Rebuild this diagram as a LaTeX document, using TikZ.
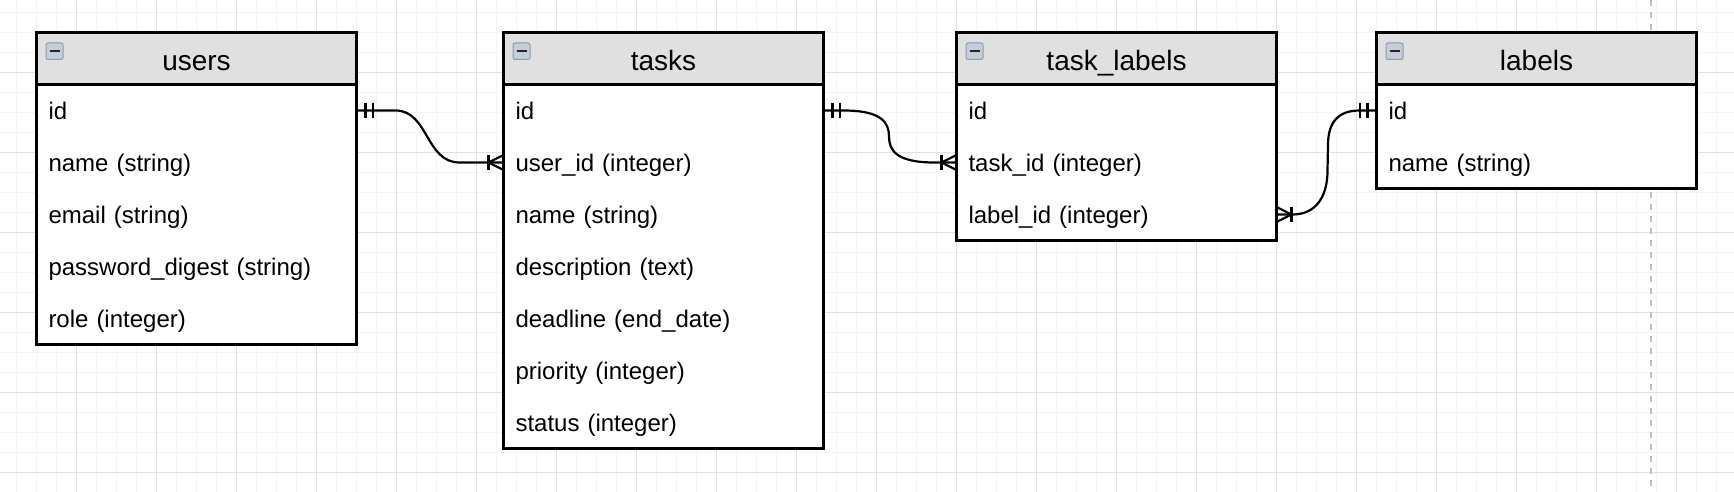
\documentclass[tikz,border=0pt]{standalone}
\usepackage{fontspec}
\setmainfont{Liberation Sans}
\usetikzlibrary{calc}
\definecolor{hdr}{RGB}{224,224,224}
\definecolor{gridminor}{RGB}{244,244,244}
\definecolor{gridmajor}{RGB}{224,224,224}
\definecolor{dashc}{RGB}{192,192,192}
\definecolor{iconfill}{RGB}{196,205,216}
\definecolor{iconborder}{RGB}{140,156,174}
\tikzset{
  hdrbox/.style={draw=black, line width=2.3pt, fill=hdr, minimum width=320pt, minimum height=52pt,
    anchor=north west, inner sep=0pt, outer sep=0pt, font=\fontsize{28}{32}\selectfont,
    text height=27pt, text depth=2pt},
  rowbox/.style={fill=white, minimum width=320pt, minimum height=52pt, anchor=north west,
    inner xsep=12pt, inner ysep=0pt, outer sep=0pt, text width=296pt, align=left,
    font=\fontsize{24}{28}\selectfont, text height=20pt, text depth=1.2pt},
  frame/.style={draw=black, line width=2.3pt},
  conn/.style={draw=black, line width=2.2pt},
  minorline/.style={draw=gridminor, line width=1.2pt},
  majorline/.style={draw=gridmajor, line width=1pt},
  dashline/.style={draw=dashc, line width=2pt, dash pattern=on 6pt off 6pt},
  icon/.style={draw=iconborder, fill=iconfill, line width=1pt, rounded corners=2pt},
  iconbar/.style={draw=black!85, line width=2.6pt}
}
\newcommand{\ertable}[4]{%
  \foreach \rowtext [count=\ri] in {#4} {
    \node[rowbox] (#1-r\ri) at (#2, {84.5+52*(\ri-1)}) {\rowtext};
    \xdef\erlastrow{\ri}
  }
  \node[hdrbox] (#1) at (#2,32.5) {#3};
  \draw[frame] (#1.north west) rectangle (#1-r\erlastrow.south east);
  \draw[icon] ($(#1.north west)+(9.5,10.5)$) rectangle ++(17,16.5);
  \draw[iconbar] ($(#1.north west)+(13,18.6)$) -- ++(10,0);
}
\newcommand{\mandone}[2]{%
  \draw[conn] ($(#1)+(#2*9,-7.5)$) -- ++(0,15);
  \draw[conn] ($(#1)+(#2*16.5,-7.5)$) -- ++(0,15);
}
\newcommand{\crowmany}[2]{%
  \draw[conn] ($(#1)+(#2*15,-7.5)$) -- ++(0,15);
  \draw[conn] ($(#1)+(0,-7.5)$) -- ($(#1)+(#2*15,0)$) -- ($(#1)+(0,7.5)$);
}
\begin{document}
\begin{tikzpicture}[x=1pt,y=-1pt]
\useasboundingbox (0,0) rectangle (1734,492);
\fill[white] (0,0) rectangle (1734,492);
% grid
\foreach \gx in {16.5,36.5,...,1736.5} \draw[minorline] (\gx,0) -- (\gx,492);
\foreach \gy in {12.3,32.3,...,492} \draw[minorline] (0,\gy) -- (1734,\gy);
\foreach \gx in {76.5,156.5,...,1736.5} \draw[majorline] (\gx,0) -- (\gx,492);
\foreach \gy in {72.3,152.3,...,492} \draw[majorline] (0,\gy) -- (1734,\gy);
% page break line
\draw[dashline] (1651,0) -- (1651,492);
% tables
\ertable{users}{36.5}{users}{id,name (string),email (string),password\_digest (string),role (integer)}
\ertable{tasks}{503.5}{tasks}{id,user\_id (integer),name (string),description (text),deadline (end\_date),priority (integer),status (integer)}
\ertable{tlabels}{956.5}{task\_labels}{id,task\_id (integer),label\_id (integer)}
\ertable{labels}{1376.5}{labels}{id,name (string)}
% connectors
\draw[conn] (users-r1.east) -- ++(39,0)
  .. controls +(33,0) and +(-34,0) .. ($(tasks-r2.west)+(-44,0)$) -- (tasks-r2.west);
\mandone{users-r1.east}{1}
\crowmany{tasks-r2.west}{-1}
\draw[conn] (tasks-r1.east) -- ++(20,0)
  .. controls +(38,0) and +(0,-14) .. ($(tasks-r1.east)+(65.5,26)$)
  .. controls +(0,14) and +(-38,0) .. ($(tlabels-r2.west)+(-22,0)$) -- (tlabels-r2.west);
\mandone{tasks-r1.east}{1}
\crowmany{tlabels-r2.west}{-1}
\draw[conn] (labels-r1.west) -- ++(-17,0)
  .. controls +(-22,0) and +(0,-22) .. ($(labels-r1.west)+(-48.5,34.5)$)
  -- ($(labels-r1.west)+(-49,60)$)
  .. controls +(0,28) and +(22,0) .. ($(tlabels-r3.east)+(16,0)$) -- (tlabels-r3.east);
\mandone{labels-r1.west}{-1}
\crowmany{tlabels-r3.east}{1}
\end{tikzpicture}
\end{document}
